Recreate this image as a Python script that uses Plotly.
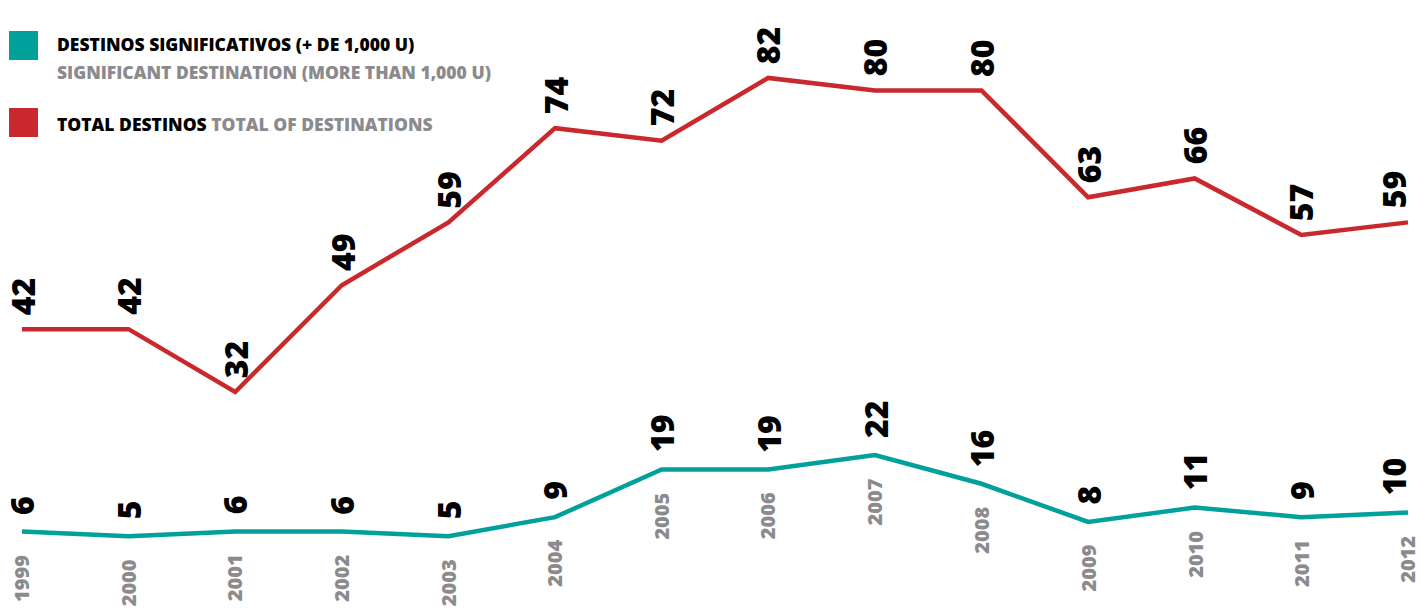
import plotly.graph_objects as go

# data
years = [1999, 2000, 2001, 2002, 2003, 2004, 2005, 2006, 2007, 2008, 2009, 2010, 2011, 2012]
total_destinos = [42, 42, 32, 49, 59, 74, 72, 82, 80, 80, 63, 66, 57, 59]
destinos_signif = [6, 5, 6, 6, 5, 9, 19, 19, 22, 16, 8, 11, 9, 10]

RED = "#c9282d"
TEAL = "#00a09b"
GRAY = "#8b8b8e"
FONT = "Open Sans"

W, H = 1420, 614

fig = go.Figure()

fig.add_trace(go.Scatter(
    x=years, y=total_destinos, mode="lines",
    line=dict(color=RED, width=4.5), yaxis="y", hoverinfo="skip"
))
fig.add_trace(go.Scatter(
    x=years, y=destinos_signif, mode="lines",
    line=dict(color=TEAL, width=4.5), yaxis="y2", hoverinfo="skip"
))

annotations = []
last = years[-1]
# value labels above each point (last one nudged left to stay inside)
for yr, v in zip(years, total_destinos):
    annotations.append(dict(
        x=yr, y=v, xref="x", yref="y", text=str(v), showarrow=False,
        textangle=-90, xanchor="center", yanchor="bottom", yshift=12,
        xshift=-15 if yr == last else 0,
        font=dict(family=FONT, size=32, color="#000000", weight=800)
    ))
for yr, v in zip(years, destinos_signif):
    annotations.append(dict(
        x=yr, y=v, xref="x", yref="y2", text=str(v), showarrow=False,
        textangle=-90, xanchor="center", yanchor="bottom", yshift=15,
        xshift=-15 if yr == last else 0,
        font=dict(family=FONT, size=32, color="#000000", weight=800)
    ))
    # year label below the teal point
    annotations.append(dict(
        x=yr, y=v, xref="x", yref="y2", text=str(yr), showarrow=False,
        textangle=-90, xanchor="center", yanchor="top", yshift=-21,
        font=dict(family=FONT, size=20, color=GRAY, weight=800)
    ))

# legend
def px(x):
    return x / W

def py(y):
    return 1 - y / H

annotations += [
    dict(x=px(55), y=py(44), xref="paper", yref="paper", xanchor="left", yanchor="middle",
         text="DESTINOS SIGNIFICATIVOS (+ DE 1,000 U)", showarrow=False,
         font=dict(family=FONT, size=17.5, color="#000000", weight=800)),
    dict(x=px(55), y=py(72), xref="paper", yref="paper", xanchor="left", yanchor="middle",
         text="SIGNIFICANT DESTINATION (MORE THAN 1,000 U)", showarrow=False,
         font=dict(family=FONT, size=17.5, color=GRAY, weight=800)),
    dict(x=px(55), y=py(124), xref="paper", yref="paper", xanchor="left", yanchor="middle",
         text="TOTAL DESTINOS <span style='color:%s'>TOTAL OF DESTINATIONS</span>" % GRAY,
         showarrow=False,
         font=dict(family=FONT, size=17.5, color="#000000", weight=800)),
]

shapes = [
    dict(type="rect", xref="paper", yref="paper", x0=px(9), x1=px(38), y0=py(31), y1=py(60),
         fillcolor=TEAL, line=dict(width=0)),
    dict(type="rect", xref="paper", yref="paper", x0=px(9), x1=px(38), y0=py(108), y1=py(137),
         fillcolor=RED, line=dict(width=0)),
]

fig.update_layout(
    width=W, height=H,
    margin=dict(l=0, r=0, t=0, b=0),
    paper_bgcolor="white", plot_bgcolor="white",
    showlegend=False,
    xaxis=dict(range=[1998.794, 2012.113], visible=False, fixedrange=True),
    yaxis=dict(range=[-3.34, 94.4], visible=False, fixedrange=True),
    yaxis2=dict(range=[-11.3, 117.4], visible=False, overlaying="y", fixedrange=True),
    annotations=annotations,
    shapes=shapes,
)

fig.write_html("out.html", config=dict(displayModeBar=False),
               post_script="document.body.style.margin='0';document.body.style.overflow='hidden';")
